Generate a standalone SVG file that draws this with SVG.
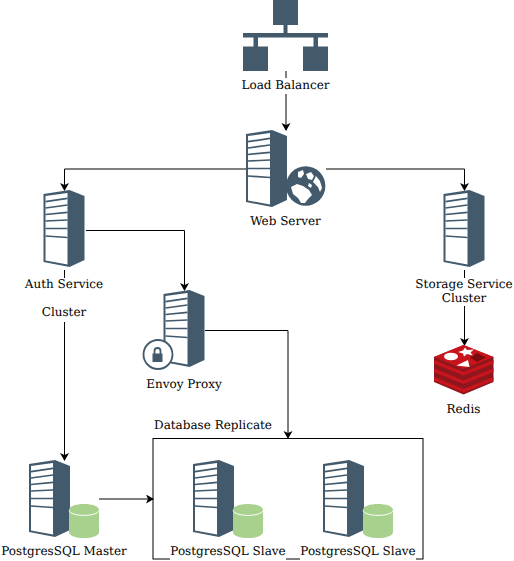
<svg xmlns="http://www.w3.org/2000/svg" width="514" height="561" viewBox="0 0 514 561">
<style>
text{font-family:"DejaVu Serif",serif;font-size:12px;fill:#000;text-anchor:middle;text-rendering:geometricPrecision}
.c{fill:none;stroke:#000;stroke-width:1}
.d{fill:#425a6b}
.l{fill:none;stroke:#425a6b;stroke-width:1.700}
.g{fill:#a9d18e}
.bg{fill:#fff}
.w{fill:#8f161c}
.t{fill:#c8151d}
</style>
<defs>
<marker id="a" markerWidth="8" markerHeight="10" refX="7" refY="4.500" orient="auto" markerUnits="userSpaceOnUse"><path d="M0 0L8 4.500L0 9L2 4.500Z" fill="#000"/></marker>
<g id="srv">
<path class="bg" d="M1 4L26 1V76L1 71Z"/>
<path class="d" d="M26 0L41 6V70L26 77ZM0 4L26 0V77L0 72ZM2 6V70.500L24 74.500V3Z" fill-rule="evenodd"/>
<path class="l" d="M2 11.700L24 8.300M2 18L24 15M2 24.500L24 22.300M2 31L24 30M2 38.500L24 38.500M2 46L24 47.500"/>
</g>
<g id="db">
<path class="g" d="M0 6C0 -2 30 -2 30 6V28C30 36 0 36 0 28Z"/>
<path d="M0 6.500C2 13 28 13 30 6.500" fill="none" stroke="#fff" stroke-width="1"/>
</g>
<path id="band" class="t" d="M434 360L463.500 372L493.500 360V363.500L463.500 375.500L434 363.500Z"/>
</defs>
<g id="connectors">
<path class="c" marker-end="url(#a)" d="M286 71V130"/>
<path class="c" marker-end="url(#a)" d="M246 169H64.500V190"/>
<path class="c" marker-end="url(#a)" d="M326 169H464.500V190"/>
<path class="c" marker-end="url(#a)" d="M86 230.500H184.500V290"/>
<path class="c" marker-end="url(#a)" d="M64.500 270V460"/>
<path class="c" marker-end="url(#a)" d="M464.500 270V345"/>
<path class="c" marker-end="url(#a)" d="M205 330.500H288V438"/>
<path class="c" marker-end="url(#a)" d="M99 499H153"/>
</g>
<g id="database-replicate">
<rect x="153" y="438.500" width="270" height="120.500" fill="none" stroke="#000"/>
<text x="213" y="429">Database Replicate</text>
</g>
<g id="load-balancer">
<path class="d" d="M273 0H298V25H287.500V33H328V37.500H318V46.500H328V71H303V46.500H313.500V37.500H258V46.500H268V71H243V46.500H253.500V37.500H243V33H283.500V25H273Z"/>
<rect class="bg" x="240" y="78" width="91" height="16"/>
<text x="285.500" y="89">Load Balancer</text>
</g>
<g id="web-server">
<use href="#srv" x="246" y="130"/>
<circle class="d" cx="305.700" cy="186" r="19.700"/>
<path class="bg" d="M291 187L297 184L303 186L309 190L312 195L308 199L305 203L301 203L298 198L293 194ZM306 174L311 172L314 176L312 180L308 179ZM316 176L320 181L322 188L320 192L318 187L315 184L313 182ZM298 172L303 170L304 174L301 178L298 177ZM309 183L312 185L311 188L308 186Z"/>
<rect class="bg" x="248" y="213" width="76" height="16"/>
<text x="285.500" y="225">Web Server</text>
</g>
<g id="auth-service">
<use href="#srv" x="43.500" y="190"/>
<rect class="bg" x="22" y="278" width="84" height="44"/>
<text x="64" y="288">Auth Service</text>
<text x="64" y="316">Cluster</text>
</g>
<g id="storage-service">
<use href="#srv" x="443.500" y="190"/>
<rect class="bg" x="414" y="278" width="100" height="28"/>
<text x="464" y="288">Storage Service</text>
<text x="464" y="302">Cluster</text>
</g>
<g id="envoy-proxy">
<use href="#srv" x="163.500" y="290"/>
<circle cx="158" cy="354.500" r="14.500" fill="#fff" stroke="#425a6b" stroke-width="1.800"/>
<path class="d" d="M152.500 353.500H162.500V362H152.500Z"/>
<path d="M154.500 354V351A3 3 0 0 1 160.500 351V354" fill="none" stroke="#425a6b" stroke-width="1.800"/>
<text x="184" y="388">Envoy Proxy</text>
</g>
<g id="redis">
<path class="w" d="M434 357L463.500 345L493.500 357V382L463.500 394.500L434 382Z"/>
<use href="#band"/>
<use href="#band" y="8.500"/>
<use href="#band" y="17"/>
<path class="t" d="M434 357L463.500 345L493.500 357L463.500 369Z"/>
<ellipse cx="451" cy="356.500" rx="7" ry="3.800" fill="#fff"/>
<path fill="#fff" d="M465 347.500L467 350L474 349.500L470.500 352.500L473 355.500L467 354L464 356.500L463 353.500L458 352L463 350.500Z"/>
<path fill="#fff" d="M468 360L469.500 367L456.500 365.500Z"/>
<path fill="#7a0c10" d="M470 357.500L477 353L486 357.500L477 362Z"/>
<text x="463.500" y="413">Redis</text>
</g>
<g id="postgres-master">
<use href="#srv" x="29" y="460"/>
<use href="#db" x="69" y="504"/>
<text x="64" y="555">PostgresSQL Master</text>
</g>
<g id="postgres-slave-1">
<use href="#srv" x="193" y="460"/>
<use href="#db" x="233" y="504"/>
<rect class="bg" x="170" y="543" width="116" height="18"/>
<text x="228" y="555">PostgresSQL Slave</text>
</g>
<g id="postgres-slave-2">
<use href="#srv" x="323" y="460"/>
<use href="#db" x="363" y="504"/>
<rect class="bg" x="300" y="543" width="116" height="18"/>
<text x="358" y="555">PostgresSQL Slave</text>
</g>
</svg>
